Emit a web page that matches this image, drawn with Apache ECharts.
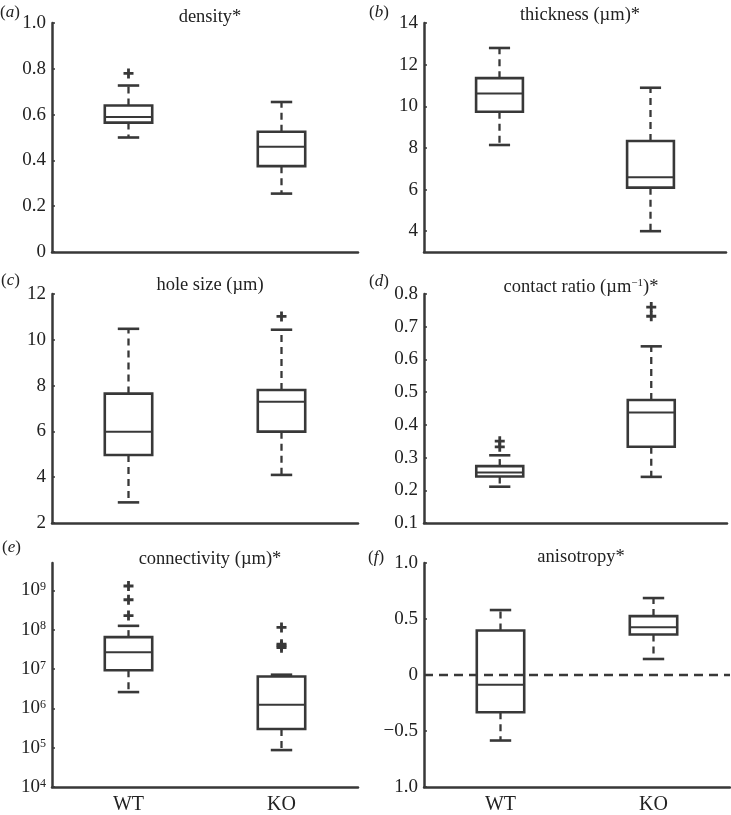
<!DOCTYPE html>
<html><head><meta charset="utf-8">
<script src="https://cdn.jsdelivr.net/npm/echarts@6/dist/echarts.min.js"></script>
<style>html,body{margin:0;padding:0;background:#fff}#c{width:731px;height:815px}</style>
</head><body><div id="c"></div>
<script>
// ---- data ----
const categories = ['WT', 'KO'];
// box stats: [lowWhisker, Q1, median, Q3, highWhisker]
const densityBox = [[0.50, 0.565, 0.59, 0.64, 0.727], [0.255, 0.375, 0.46, 0.525, 0.655]];
const densityOut = [[0, 0.78]];
const thicknessBox = [[8.14, 9.74, 10.61, 11.35, 12.8], [4.0, 6.09, 6.59, 8.33, 10.89]];
const thicknessOut = [];
const holeBox = [[2.9, 4.97, 5.99, 7.65, 10.48], [4.1, 5.99, 7.3, 7.81, 10.44]];
const holeOut = [[1, 11.02]];
const contactBox = [[0.211, 0.242, 0.254, 0.274, 0.307], [0.241, 0.333, 0.438, 0.476, 0.64]];
const contactOut = [[0, 0.333], [0, 0.35], [1, 0.732], [1, 0.76]];
const connBox = [[2.6e6, 9.3e6, 2.7e7, 6.5e7, 1.26e8], [8.7e4, 3.0e5, 1.23e6, 6.5e6, 7.2e6]];
const connOut = [[0, 2.3e8], [0, 5.8e8], [0, 1.3e9], [1, 3.5e7], [1, 3.9e7], [1, 4.3e7], [1, 1.15e8]];
const anisoBox = [[-0.585, -0.333, -0.088, 0.397, 0.58], [0.143, 0.362, 0.426, 0.526, 0.687]];
const anisoOut = [];

const titles = ['density*', 'thickness (µm)*', 'hole size (µm)', 'contact ratio (µm{sup|\u22121})*', 'connectivity (µm)*', 'anisotropy*'];
const panelLetters = ['a', 'b', 'c', 'd', 'e', 'f'];
const thicknessTicks = [4, 6, 8, 10, 12, 14];
const connTicks = [1e4, 1e5, 1e6, 1e7, 1e8, 1e9];

// ---- layout / style ----
const INK = '#383838';
const TXT = '#222';
const FONT = '"Liberation Serif", "DejaVu Serif", serif';
const grids = [
  {left: 52, top: 23, width: 306, height: 229},
  {left: 424, top: 23, width: 302, height: 229},
  {left: 52, top: 294, width: 306, height: 229},
  {left: 424, top: 294, width: 303, height: 229},
  {left: 52, top: 563, width: 306, height: 229},
  {left: 424, top: 563, width: 306, height: 228}
];
const titlePos = [[205, 3], [575, 1], [205, 271], [576, 273], [205, 545], [576, 543]];
const letterPos = [[0, 4], [369, 4], [1, 272], [369, 273], [2, 539], [368, 549]];

const boxes = [densityBox, thicknessBox, holeBox, contactBox, connBox, anisoBox];
const outs = [densityOut, thicknessOut, holeOut, contactOut, connOut, anisoOut];

const supRich = {sup: {fontSize: 12, fontFamily: FONT, color: TXT, verticalAlign: 'top', lineHeight: 12}};

function fmt1(v) { return v === 0 ? '0' : v.toFixed(1); }
const yAxisDefs = [
  {type: 'value', min: 0, max: 1, interval: 0.2, axisLabel: {formatter: fmt1}},
  {type: 'value', min: 3, max: 14, axisLabel: {customValues: thicknessTicks, formatter: v => String(v)}, axisTick: {customValues: thicknessTicks}},
  {type: 'value', min: 2, max: 12, interval: 2, axisLabel: {formatter: v => String(v)}},
  {type: 'value', min: 0.1, max: 0.8, interval: 0.1, axisLabel: {formatter: v => v.toFixed(1)}},
  {type: 'log', min: 1e4, max: 5e9, axisLabel: {customValues: connTicks, formatter: v => '10{sup|' + Math.round(Math.log10(v)) + '}', rich: supRich}, axisTick: {customValues: connTicks}},
  {type: 'value', min: -1, max: 1, interval: 0.5, axisLabel: {formatter: v => v === -1 ? '1.0' : (v === 0 ? '0' : (v < 0 ? '\u2212' + Math.abs(v).toFixed(1) : v.toFixed(1)))}}
];

function renderBox(params, api) {
  const cat = api.value(0);
  const lo = api.coord([cat, api.value(1)]);
  const q1 = api.coord([cat, api.value(2)]);
  const md = api.coord([cat, api.value(3)]);
  const q3 = api.coord([cat, api.value(4)]);
  const hi = api.coord([cat, api.value(5)]);
  const band = api.size([1, 0])[0];
  const bw = band * 0.31, cw = band * 0.14;
  const x = lo[0];
  const dashed = {stroke: INK, lineWidth: 2.3, lineDash: [7, 5], fill: null};
  const solid = {stroke: INK, lineWidth: 2.6, fill: null};
  return {type: 'group', children: [
    {type: 'line', shape: {x1: x, y1: q3[1], x2: x, y2: hi[1]}, style: dashed},
    {type: 'line', shape: {x1: x, y1: q1[1], x2: x, y2: lo[1]}, style: dashed},
    {type: 'line', shape: {x1: x - cw / 2, y1: hi[1], x2: x + cw / 2, y2: hi[1]}, style: solid},
    {type: 'line', shape: {x1: x - cw / 2, y1: lo[1], x2: x + cw / 2, y2: lo[1]}, style: solid},
    {type: 'rect', shape: {x: x - bw / 2, y: q3[1], width: bw, height: q1[1] - q3[1]}, style: {stroke: INK, lineWidth: 2.6, fill: null}},
    {type: 'line', shape: {x1: x - bw / 2, y1: md[1], x2: x + bw / 2, y2: md[1]}, style: {stroke: INK, lineWidth: 2}}
  ]};
}

const PLUS = 'path://M3.6,0H6.4V3.6H10V6.4H6.4V10H3.6V6.4H0V3.6H3.6Z';

const option = {
  animation: false,
  backgroundColor: '#fff',
  grid: grids,
  title: titles.map((t, i) => ({
    text: t, left: titlePos[i][0], top: titlePos[i][1], textAlign: 'center',
    textStyle: {fontFamily: FONT, fontSize: 18.5, fontWeight: 'normal', color: TXT, rich: {sup: {fontSize: 11, fontFamily: FONT, color: TXT, verticalAlign: 'top', lineHeight: 11}}}
  })),
  xAxis: grids.map((g, i) => ({
    type: 'category', gridIndex: i, data: categories, boundaryGap: true,
    axisLine: {show: true, onZero: false, lineStyle: {color: INK, width: 2.5}},
    axisTick: {show: false},
    axisLabel: {show: i >= 4, fontFamily: FONT, fontSize: 20, color: TXT, margin: 8},
    splitLine: {show: false}
  })),
  yAxis: yAxisDefs.map((d, i) => {
    const base = {
      gridIndex: i,
      axisLine: {show: true, lineStyle: {color: INK, width: 2.5}},
      axisTick: Object.assign({show: true, inside: true, length: 3, lineStyle: {color: INK, width: 1.5}}, d.axisTick || {}),
      splitLine: {show: false},
      axisLabel: Object.assign({fontFamily: FONT, fontSize: 19, color: TXT, margin: 6, showMinLabel: true, showMaxLabel: true}, d.axisLabel)
    };
    return Object.assign({}, d, base);
  }),
  graphic: panelLetters.map((l, i) => ({
    type: 'text', left: letterPos[i][0], top: letterPos[i][1],
    style: {text: '({i|' + l + '})', font: '17px ' + FONT, fill: TXT,
      rich: {i: {fontStyle: 'italic', fontSize: 17, fontFamily: FONT, fill: TXT, color: TXT}}}
  })),
  series: []
};

boxes.forEach((b, i) => {
  const s = {
    type: 'custom', xAxisIndex: i, yAxisIndex: i, renderItem: renderBox,
    encode: {x: 0, y: [1, 2, 3, 4, 5]},
    data: b.map((v, k) => [k].concat(v)),
    z: 3
  };
  if (i === 5) {
    s.markLine = {silent: true, symbol: 'none', label: {show: false},
      lineStyle: {color: INK, type: [9, 6], width: 2.3}, data: [{yAxis: 0}]};
  }
  option.series.push(s);
  option.series.push({
    type: 'scatter', xAxisIndex: i, yAxisIndex: i, symbol: PLUS, symbolSize: 10,
    itemStyle: {color: INK, opacity: 1}, data: outs[i], z: 4
  });
});

const chart = echarts.init(document.getElementById('c'), null, {renderer: 'canvas'});
chart.setOption(option);
</script>
</body></html>
